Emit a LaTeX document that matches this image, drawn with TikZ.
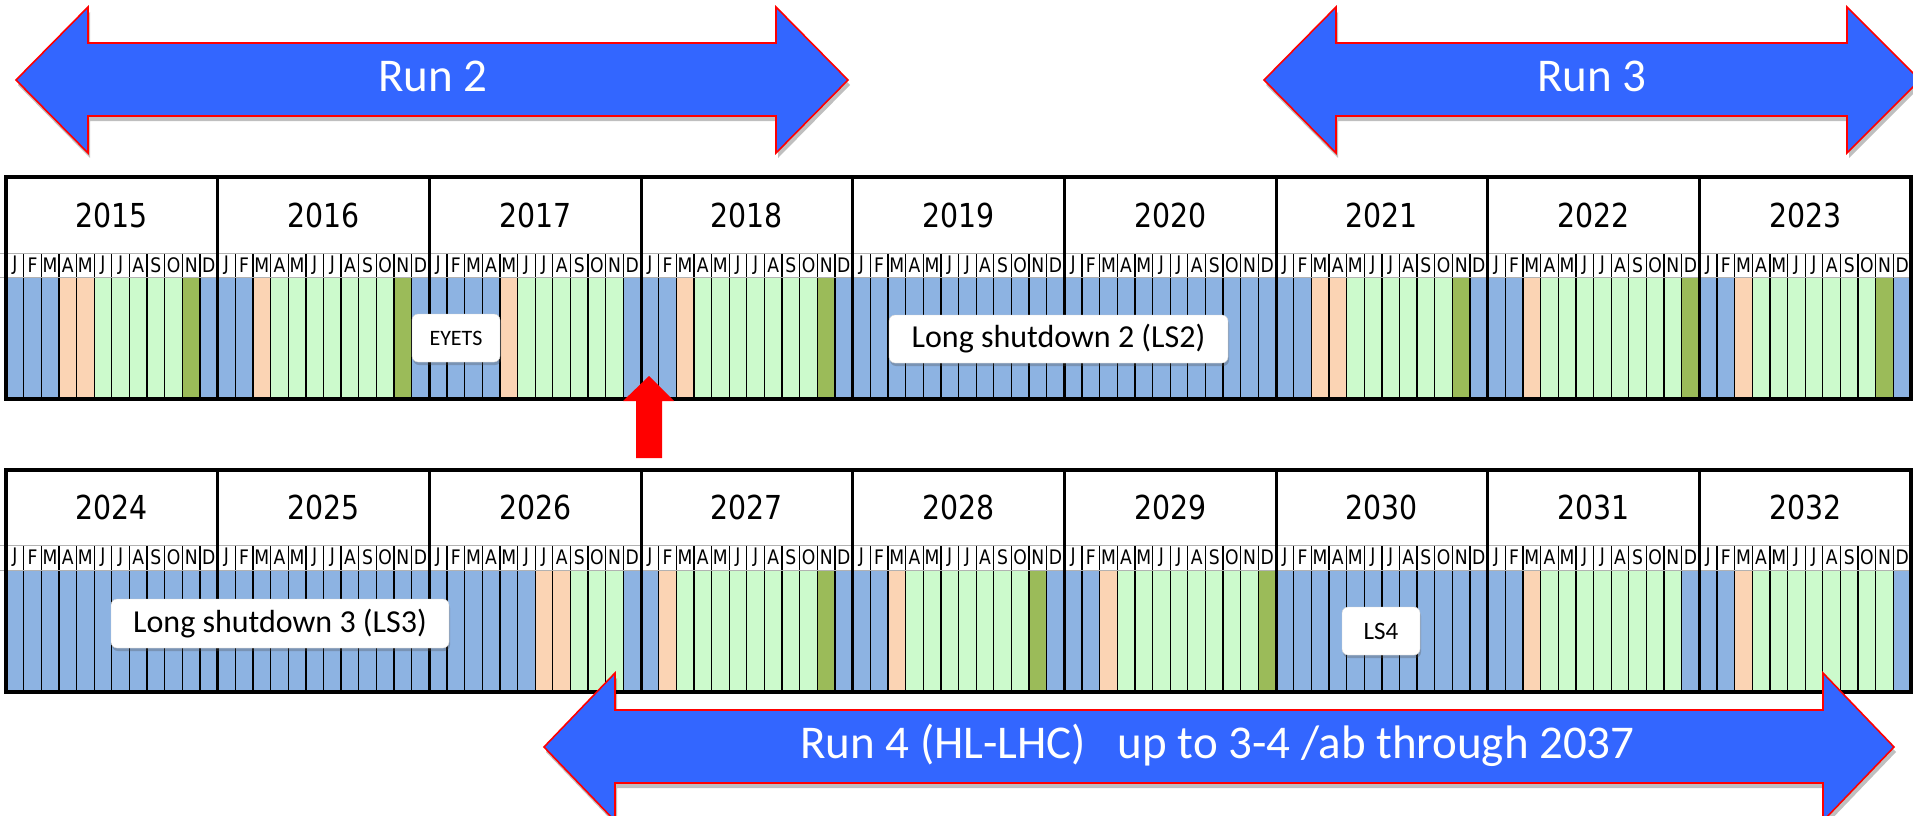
\documentclass[tikz,border=0pt]{standalone}
\usepackage{fontspec}
\setmainfont{Carlito}
\newfontfamily\tah[FakeStretch=0.86]{DejaVu Sans}
\usetikzlibrary{shadows}
\definecolor{cB}{HTML}{8DB3E2}
\definecolor{cP}{HTML}{FBD4B4}
\definecolor{cG}{HTML}{CCFACC}
\definecolor{cD}{HTML}{9BBB59}
\definecolor{arrowblue}{HTML}{3366FF}
\def\xo{6}
\def\yw{211.6667}
\def\mw{17.6389}
\tikzset{
  monthline/.style={black, line width=1.3pt},
  yearline/.style={black, line width=3pt},
  tborder/.style={black, line width=4pt},
  hline/.style={gray!60, line width=1pt},
  yearlbl/.style={inner sep=0pt, font=\tah\fontsize{33}{33}\selectfont},
  monlbl/.style={inner sep=0pt, font=\tah\fontsize{20}{20}\selectfont},
  lbl/.style={draw=gray!35, fill=white, rounded corners=6pt, inner sep=0pt,
    drop shadow={shadow xshift=1pt, shadow yshift=-3pt, opacity=0.3, fill=black!70}},
  bigarrow/.style={fill=arrowblue, draw=red, line width=1.6pt,
    drop shadow={shadow xshift=2pt, shadow yshift=-5pt, opacity=0.25, fill=black}},
  runlbl/.style={text=white, inner sep=0pt, font=\fontsize{47}{47}\selectfont, anchor=base}
}
% #1 top, #2 header bottom, #3 month-row bottom, #4 bottom, #5 first year, #6 fills, #7 name prefix
\newcommand\drawtable[7]{%
  \fill[cB] (\xo,#3) rectangle ({\xo+1905},#4);
  \foreach \a/\b/\c in {#6} {
    \fill[\c] ({\xo+\a*\mw},#3) rectangle ({\xo+(\b+1)*\mw},#4);
  }
  \fill[white] (\xo,#1) rectangle ({\xo+1905},#3);
  \foreach \i in {1,...,107} {
    \draw[monthline] ({\xo+\i*\mw},#2) -- ({\xo+\i*\mw},#4);
  }
  \draw[hline] (0,#2) -- (1913,#2);
  \draw[hline] (0,#3) -- (1913,#3);
  \foreach \k in {0,...,8} {
    \pgfmathtruncatemacro\yy{#5+\k}
    \node[yearlbl] (#7y\k) at ({\xo+(\k+0.5)*\yw},{(#1+#2)/2}) {\yy};
    \foreach \mm [count=\j from 0] in {J,F,M,A,M,J,J,A,S,O,N,D} {
      \node[monlbl] (#7m\k-\j) at ({\xo+(\k*12+\j+0.5)*\mw},{(#2+#3)/2}) {\mm};
    }
  }
  \foreach \k in {1,...,8} {
    \draw[yearline] ({\xo+\k*\yw},#1) -- ({\xo+\k*\yw},#4);
  }
  \draw[tborder] (\xo,#1) rectangle ({\xo+1905},#4);
}
\begin{document}
\begin{tikzpicture}[x=1pt,y=-1pt]
\useasboundingbox (0,0) rectangle (1913,816);
\clip (0,0) rectangle (1913,816);
\fill[white] (0,0) rectangle (1913,816);

% Top arrows
\path[bigarrow] (16,80) -- (88,7) -- (88,43) -- (776,43) -- (776,7) -- (848,80)
  -- (776,153) -- (776,116) -- (88,116) -- (88,153) -- cycle;
\node[runlbl] (run2) at (433,92) {Run 2};
\path[bigarrow] (1264,80) -- (1336,7) -- (1336,43) -- (1847,43) -- (1847,7) -- (1920,80)
  -- (1847,153) -- (1847,116) -- (1336,116) -- (1336,153) -- cycle;
\node[runlbl] (run3) at (1592,92) {Run 3};

% Tables
\drawtable{177}{253}{277}{399}{2015}{3/4/cP,5/9/cG,10/10/cD,14/14/cP,15/21/cG,22/22/cD,28/28/cP,29/34/cG,38/38/cP,39/45/cG,46/46/cD,74/75/cP,76/81/cG,82/82/cD,86/86/cP,87/94/cG,95/95/cD,98/98/cP,99/105/cG,106/106/cD}{t}
\drawtable{470}{545}{570}{692}{2024}{30/31/cP,32/34/cG,37/37/cP,38/45/cG,46/46/cD,50/50/cP,51/57/cG,58/58/cD,62/62/cP,63/70/cG,71/71/cD,86/86/cP,87/94/cG,98/98/cP,99/106/cG}{b}

% Labels
\node[lbl, minimum width=88pt, minimum height=48pt, font=\fontsize{22}{22}\selectfont] (eyets) at (456,338) {EYETS};
\node[lbl, minimum width=339pt, minimum height=48pt, font=\fontsize{32}{32}\selectfont] (ls2) at (1058.5,339) {Long shutdown 2 (LS2)};
\node[lbl, minimum width=338pt, minimum height=49pt, font=\fontsize{32}{32}\selectfont] (ls3) at (280,623.5) {Long shutdown 3 (LS3)};
\node[lbl, minimum width=78pt, minimum height=48pt, font=\fontsize{25}{25}\selectfont] (ls4) at (1381,631) {LS4};

% Red arrow
\fill[red] (649,376) -- (674,401) -- (662,401) -- (662,458) -- (636,458) -- (636,401) -- (623,401) -- cycle;

% Run 4 arrow
\path[bigarrow] (544,747) -- (615,673) -- (615,710) -- (1823,710) -- (1823,673) -- (1894,747)
  -- (1823,821) -- (1823,783) -- (615,783) -- (615,821) -- cycle;
\node[runlbl] (run4) at (1217.5,758) {Run 4 (HL-LHC)\ \ \ up to 3-4 /ab through 2037};
\end{tikzpicture}
\end{document}
